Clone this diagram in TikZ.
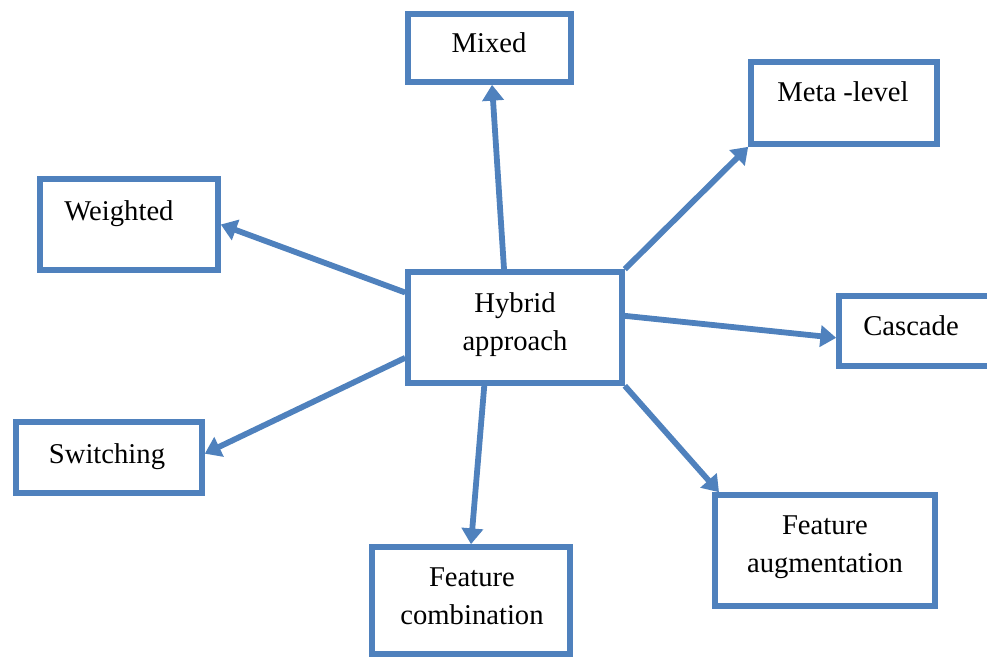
\documentclass[tikz,border=0pt]{standalone}
\usepackage{fontspec}
\setmainfont{Liberation Serif}
\usetikzlibrary{arrows.meta,calc}
\definecolor{officeblue}{RGB}{79,129,189}

\begin{document}
\begin{tikzpicture}[x=0.02cm,y=-0.02cm,
	box/.style={draw=officeblue, line width=3.2pt, inner sep=0pt, fill=white},
	txt/.style={anchor=base, align=center, inner sep=0pt,
	font=\fontsize{16.3}{21.5}\selectfont},
	link/.style={draw=officeblue, line width=3.3pt,
	-{Triangle[length=9pt,width=12pt]}}]
\path[use as bounding box, clip] (0,0) rectangle (987,659);
%Kaesten zeichnen
\foreach \n/\x/\y/\w/\h in {mixed/489.5/48/3.26/1.36, meta/844/103/3.72/1.64,
	weighted/129/224.5/3.56/1.82, hybrid/515/327.5/4.28/2.22,
	cascade/919.5/331/3.22/1.40, switching/109/457.5/3.72/1.42,
	comb/471/600.5/3.96/2.14, aug/825/550.5/4.40/2.22}
\node [box, minimum width=\w cm, minimum height=\h cm] (\n) at (\x,\y) {};
% Beschriftungen (Grundlinie der letzten Zeile)
\node [txt] (mixed-t) at (489,52) {Mixed};
\node [txt] (meta-t) at (843,101) {Meta -level};
\node [txt] (weighted-t) at (119,220) {Weighted};
\node [txt] (hybrid-t) at (515,350) {Hybrid\\approach};
\node [txt] (cascade-t) at (911,335) {Cascade};
\node [txt] (switching-t) at (107,463) {Switching};
\node [txt] (comb-t) at (472,624) {Feature\\combination};
\node [txt] (aug-t) at (825,572) {Feature\\augmentation};
%Pfeile einzeichnen:
\draw [link] ($(hybrid.north west)!0.45!(hybrid.north east)$) -- ($(mixed.south west)!0.515!(mixed.south east)$);
\draw [link] (hybrid.north east) -- (meta.south west);
\draw [link] ($(hybrid.north west)!0.2!(hybrid.south west)$) -- (weighted.east);
\draw [link] ($(hybrid.north east)!0.4!(hybrid.south east)$) -- ($(cascade.north west)!0.59!(cascade.south west)$);
\draw [link] ($(hybrid.north west)!0.76!(hybrid.south west)$) -- ($(switching.north east)!0.45!(switching.south east)$);
\draw [link] ($(hybrid.south west)!0.36!(hybrid.south east)$) -- (comb.north);
\draw [link] (hybrid.south east) -- ($(aug.north west)!0.03!(aug.north east)$);

\end{tikzpicture}
\end{document}
